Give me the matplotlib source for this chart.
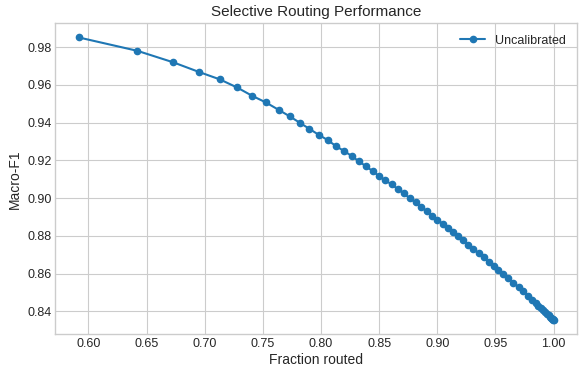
import matplotlib

matplotlib.use("Agg")
import matplotlib.pyplot as plt

# values
FRACTION_ROUTED = [
    0.5917, 0.6422, 0.6731, 0.6952, 0.7130, 0.7279, 0.7408, 0.7526, 0.7635,
    0.7732, 0.7821, 0.7898, 0.7982, 0.8057, 0.8128, 0.8197, 0.8263, 0.8326,
    0.8389, 0.8447, 0.8501, 0.8553, 0.8608, 0.8662, 0.8713, 0.8762, 0.8814,
    0.8862, 0.8909, 0.8954, 0.9000, 0.9047, 0.9090, 0.9135, 0.9178, 0.9221,
    0.9267, 0.9310, 0.9356, 0.9399, 0.9442, 0.9485, 0.9525, 0.9568, 0.9611,
    0.9654, 0.9701, 0.9740, 0.9783, 0.9818, 0.9845, 0.9870, 0.9893, 0.9913,
    0.9930, 0.9945, 0.9958, 0.9969, 0.9978, 0.9986, 0.9992, 0.9997, 1.0000,
]
MACRO_F1 = [
    0.9851, 0.9780, 0.9719, 0.9668, 0.9629, 0.9586, 0.9542, 0.9507, 0.9468,
    0.9433, 0.9398, 0.9368, 0.9335, 0.9308, 0.9276, 0.9250, 0.9224, 0.9195,
    0.9168, 0.9142, 0.9116, 0.9094, 0.9073, 0.9047, 0.9026, 0.8999, 0.8978,
    0.8954, 0.8930, 0.8908, 0.8885, 0.8865, 0.8843, 0.8819, 0.8797, 0.8776,
    0.8754, 0.8732, 0.8708, 0.8686, 0.8663, 0.8640, 0.8621, 0.8599, 0.8576,
    0.8553, 0.8529, 0.8506, 0.8483, 0.8462, 0.8446, 0.8431, 0.8418, 0.8406,
    0.8396, 0.8387, 0.8379, 0.8372, 0.8367, 0.8362, 0.8359, 0.8356, 0.8354,
]
SERIES_LABEL = "Uncalibrated"
X_TICKS = [0.60, 0.65, 0.70, 0.75, 0.80, 0.85, 0.90, 0.95, 1.00]
Y_TICKS = [0.84, 0.86, 0.88, 0.90, 0.92, 0.94, 0.96, 0.98]


def main() -> None:
    plt.style.use("seaborn-v0_8-whitegrid")
    plt.rcParams["font.family"] = ["Liberation Sans", "DejaVu Sans"]
    plt.rcParams.update({"text.color": "0.15", "axes.labelcolor": "0.15",
                         "xtick.color": "0.15", "ytick.color": "0.15"})

    fig = plt.figure(figsize=(5.79, 3.70), dpi=100)
    ax = fig.add_axes([0.095, 0.0965, 0.902, 0.8405])

    ax.plot(FRACTION_ROUTED, MACRO_F1, marker="o", color="#1f77b4",
            linewidth=1.5, markersize=4.5, label=SERIES_LABEL)

    ax.set_xticks(X_TICKS)
    ax.set_xticklabels([f"{t:.2f}" for t in X_TICKS])
    ax.set_yticks(Y_TICKS)
    ax.set_yticklabels([f"{t:.2f}" for t in Y_TICKS])
    ax.tick_params(axis="both", labelsize=9, pad=2.5, length=0)
    ax.set_xlabel("Fraction routed", fontsize=10, labelpad=2)
    ax.set_ylabel("Macro-F1", fontsize=10, labelpad=4)
    ax.set_title("Selective Routing Performance", fontsize=11, pad=5)
    ax.legend(loc="upper right", fontsize=9, frameon=False)
    for spine in ax.spines.values():
        spine.set_color("0.8")

    fig.savefig("out.png", dpi=100)
    plt.close(fig)


if __name__ == "__main__":
    main()
